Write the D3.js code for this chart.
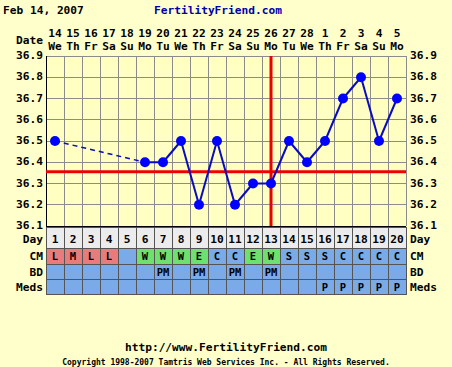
<!DOCTYPE html>
<html><head><meta charset="utf-8">
<script src="https://cdn.jsdelivr.net/npm/d3@7"></script>
<style>
html,body{margin:0;padding:0;background:#ffffcc;}
svg{display:block;}
text{font-family:"DejaVu Sans Mono",monospace;font-weight:bold;}
</style></head>
<body>
<script>
const days = d3.range(1, 21);
const dateNums = ["14","15","16","17","18","19","20","21","22","23","24","25","26","27","28","1","2","3","4","5"];
const weekdays = ["We","Th","Fr","Sa","Su","Mo","Tu","We","Th","Fr","Sa","Su","Mo","Tu","We","Th","Fr","Sa","Su","Mo"];
const temps = [36.5,null,null,null,null,36.4,36.4,36.5,36.2,36.5,36.2,36.3,36.3,36.5,36.4,36.5,36.7,36.8,36.5,36.7];
const yTicks = [36.1,36.2,36.3,36.4,36.5,36.6,36.7,36.8,36.9];
const cm = ["L","M","L","L","","W","W","W","E","C","C","E","W","S","S","S","C","C","C","C"];
const bd = ["","","","","","","PM","","PM","","PM","","PM","","","","","","",""];
const meds = ["","","","","","","","","","","","","","","","P","P","P","P","P"];
const coverline = 36.355;
const ovulationDay = 13;

const W = 452, H = 367;
const L = 46, R = 406, T = 56, B = 226;
const FS = 11.2;
const svg = d3.select("body").append("svg").attr("width", W).attr("height", H);
svg.append("rect").attr("width", W).attr("height", H).attr("fill", "#ffffcc");

const x = d3.scaleBand().domain(days).range([L, R]);
const y = d3.scaleLinear().domain([36.1, 36.9]).range([B, T]);
const cx = d => x(d) + x.bandwidth() / 2;

// header
svg.append("text").attr("x", 3).attr("y", 14).attr("font-size", FS).attr("fill", "#000").text("Feb 14, 2007");
svg.append("text").attr("x", 218).attr("y", 14).attr("font-size", FS).attr("fill", "#0000aa").attr("text-anchor", "middle").text("FertilityFriend.com");
svg.append("text").attr("x", 43).attr("y", 44).attr("font-size", FS).attr("text-anchor", "end").text("Date");
svg.selectAll(".dn").data(days).enter().append("text")
  .attr("x", d => cx(d)).attr("y", 37).attr("font-size", FS).attr("text-anchor", "middle").text((d, i) => dateNums[i]);
svg.selectAll(".wd").data(days).enter().append("text")
  .attr("x", d => cx(d)).attr("y", 50).attr("font-size", FS).attr("text-anchor", "middle").text((d, i) => weekdays[i]);

// plot bg
svg.append("rect").attr("x", L).attr("y", T).attr("width", R - L).attr("height", B - T).attr("fill", "#ffffc2");
// grid
svg.selectAll(".vg").data(d3.range(0, 21)).enter().append("line")
  .attr("x1", i => L + i * x.bandwidth()).attr("x2", i => L + i * x.bandwidth())
  .attr("y1", T).attr("y2", B).attr("stroke", "#8c8c8c").attr("stroke-width", 1).attr("shape-rendering", "crispEdges");
svg.selectAll(".hg").data(yTicks).enter().append("line")
  .attr("x1", L).attr("x2", R).attr("y1", d => y(d)).attr("y2", d => y(d))
  .attr("stroke", "#8c8c8c").attr("stroke-width", 1).attr("shape-rendering", "crispEdges");
svg.append("line").attr("x1", L).attr("x2", L).attr("y1", T).attr("y2", B).attr("stroke", "#000").attr("shape-rendering", "crispEdges");

// y labels
svg.selectAll(".yl").data(yTicks).enter().append("text")
  .attr("x", 43).attr("y", d => y(d) + 3).attr("font-size", FS).attr("text-anchor", "end").text(d => d.toFixed(1));
svg.selectAll(".yr").data(yTicks).enter().append("text")
  .attr("x", 410).attr("y", d => y(d) + 3).attr("font-size", FS).attr("text-anchor", "start").text(d => d.toFixed(1));

// coverline and ovulation
svg.append("line").attr("x1", L).attr("x2", R).attr("y1", y(coverline)).attr("y2", y(coverline)).attr("stroke", "#ee0000").attr("stroke-width", 3);
svg.append("line").attr("x1", cx(ovulationDay)).attr("x2", cx(ovulationDay)).attr("y1", T).attr("y2", B).attr("stroke", "#ee0000").attr("stroke-width", 3);

// data lines
const pts = days.map((d, i) => ({d, v: temps[i]})).filter(p => p.v !== null);
for (let k = 1; k < pts.length; k++) {
  const a = pts[k - 1], b = pts[k];
  const gap = b.d - a.d > 1;
  svg.append("line").attr("x1", cx(a.d)).attr("y1", y(a.v)).attr("x2", cx(b.d)).attr("y2", y(b.v))
    .attr("stroke", "#0a0ac0").attr("stroke-width", gap ? 1.5 : 2)
    .attr("stroke-dasharray", gap ? "5,4" : null);
}
svg.selectAll(".pt").data(pts).enter().append("circle")
  .attr("cx", p => cx(p.d)).attr("cy", p => y(p.v)).attr("r", 5).attr("fill", "#0000ff");

// table
const rows = [
  {name: "Day", y0: 227, h: 21, vals: days.map(String), size: FS, dy: 5},
  {name: "CM", y0: 248, h: 16, vals: cm, size: 10.5, dy: 4},
  {name: "BD", y0: 264, h: 15, vals: bd, size: 10.5, dy: 4},
  {name: "Meds", y0: 279, h: 15, vals: meds, size: 10.5, dy: 4}
];
const cellFill = (r, v) => {
  if (r === "Day") return "#ececec";
  if (r === "CM") {
    if (v === "L" || v === "M") return "#e87c7c";
    if (v === "W" || v === "E") return "#6ee06e";
  }
  return "#7aaae8";
};
rows.forEach(r => {
  svg.selectAll(null).data(days).enter().append("rect")
    .attr("x", d => x(d)).attr("y", r.y0).attr("width", x.bandwidth()).attr("height", r.h)
    .attr("fill", (d, i) => cellFill(r.name, r.vals[i]))
    .attr("stroke", "#555").attr("stroke-width", 1).attr("shape-rendering", "crispEdges");
  svg.selectAll(null).data(days).enter().append("text")
    .attr("x", d => cx(d)).attr("y", r.y0 + r.h / 2 + r.dy).attr("font-size", r.size).attr("text-anchor", "middle")
    .attr("fill", "#000").text((d, i) => r.vals[i]);
  svg.append("text").attr("x", 43).attr("y", r.y0 + r.h / 2 + r.dy).attr("font-size", FS).attr("text-anchor", "end").text(r.name);
  svg.append("text").attr("x", 410).attr("y", r.y0 + r.h / 2 + r.dy).attr("font-size", FS).attr("text-anchor", "start").text(r.name);
});
svg.append("line").attr("x1", L).attr("x2", R).attr("y1", 226.5).attr("y2", 226.5).attr("stroke", "#000").attr("stroke-width", 1);

// footer
svg.append("text").attr("x", 226).attr("y", 351).attr("font-size", FS).attr("text-anchor", "middle").text("http://www.FertilityFriend.com");
svg.append("text").attr("x", 226).attr("y", 365).attr("font-size", 8).attr("font-weight", "normal").attr("text-anchor", "middle").text("Copyright 1998-2007 Tamtris Web Services Inc. - All Rights Reserved.");
</script>
</body></html>
